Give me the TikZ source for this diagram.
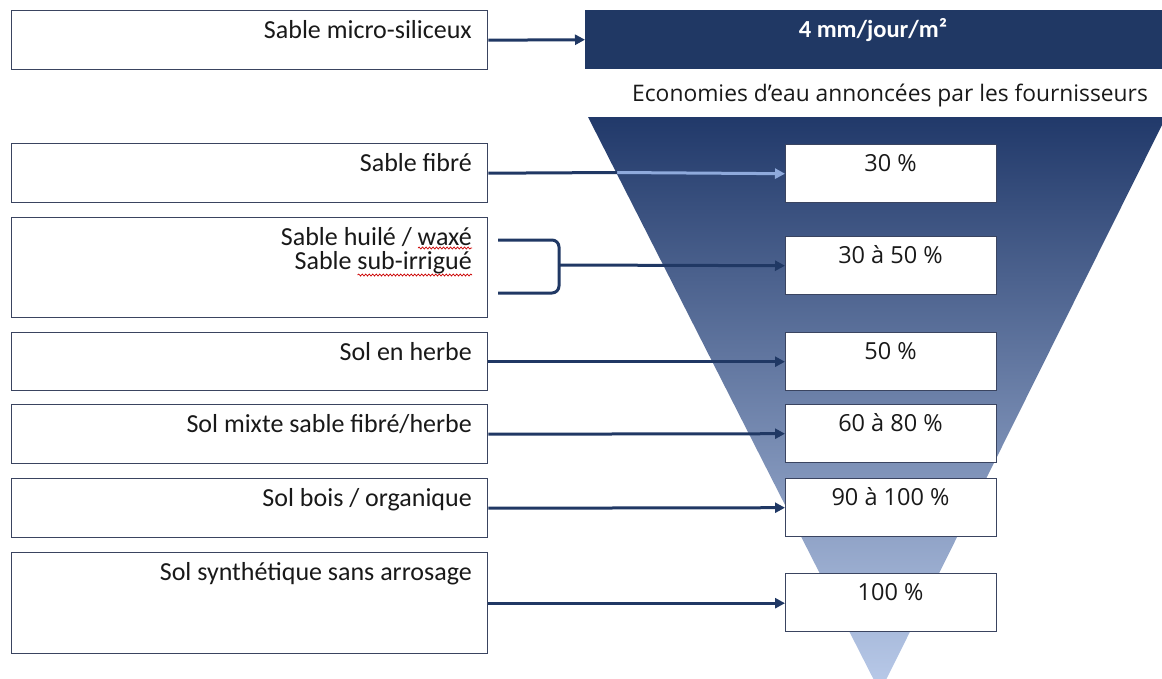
\documentclass[tikz,border=0pt]{standalone}
\usepackage{fontspec}
\setmainfont{Carlito}
\newfontfamily\opensans{Open Sans}
\usetikzlibrary{arrows.meta,decorations.pathmorphing}
\definecolor{navy}{RGB}{32,56,100}
\definecolor{funtop}{RGB}{33,57,106}
\definecolor{funmid}{RGB}{112,134,183}
\definecolor{funbot}{RGB}{186,203,234}
\definecolor{boxline}{RGB}{58,68,96}
\definecolor{arrowlight}{RGB}{143,170,220}
\definecolor{txt}{RGB}{25,25,25}
\newlength\wxwidth
\newlength\siwidth
\tikzset{
  lbox/.style={draw=boxline,line width=1.4pt,fill=white,minimum width=476pt,inner sep=0pt,anchor=north west},
  rbox/.style={draw=boxline,line width=1.4pt,fill=white,minimum width=211pt,minimum height=58pt,inner sep=0pt,anchor=north west},
  ltext/.style={anchor=base east,font=\fontsize{26}{28}\selectfont,text=txt,inner sep=0pt},
  rtext/.style={anchor=base,font=\opensans\fontsize{23.5}{26}\selectfont,text=txt,inner sep=0pt},
  conn/.style={draw=navy,line width=3pt,-{Triangle[length=10pt,width=10pt]}},
  connlight/.style={draw=arrowlight,line width=3pt,-{Triangle[length=10pt,width=10pt]}},
  connplain/.style={draw=navy,line width=3pt},
  brack/.style={draw=navy,line width=3pt,rounded corners=7pt},
  spell/.style={draw=red!80!black,line width=0.7pt,decorate,decoration={snake,segment length=3.5pt,amplitude=1pt}},
}
\begin{document}
\settowidth\wxwidth{\fontsize{26}{28}\selectfont waxé}%
\settowidth\siwidth{\fontsize{26}{28}\selectfont sub-irrigué}%
\begin{tikzpicture}[x=1pt,y=-1pt]
\useasboundingbox (0,0) rectangle (1162,678);
\begin{scope}
\clip (0,0) rectangle (1162,678);
\shade[top color=funtop,middle color=funmid,bottom color=funbot] (588,117) -- (1166,117) -- (880,692) -- cycle;
\end{scope}
\node[fill=navy,minimum width=577pt,minimum height=59pt,inner sep=0pt,anchor=north west] (head) at (585,10) {};
\node[anchor=base,font=\bfseries\fontsize{24.5}{26}\selectfont,text=white,inner sep=0pt] (headt) at (873,37) {4 mm/jour/m²};
\node[anchor=base west,font=\opensans\fontsize{22.8}{26}\selectfont,text=txt,inner sep=0pt] (eco) at (632,101) {Economies d’eau annoncées par les fournisseurs};

% left boxes
\node[lbox,minimum height=59pt] (b1) at (11,10) {};
\node[lbox,minimum height=59pt] (b2) at (11,143) {};
\node[lbox,minimum height=100pt] (b3) at (11,217) {};
\node[lbox,minimum height=58pt] (b4) at (11,332) {};
\node[lbox,minimum height=59pt] (b5) at (11,404) {};
\node[lbox,minimum height=59pt] (b6) at (11,478) {};
\node[lbox,minimum height=101pt] (b7) at (11,552) {};

\node[ltext] (t1) at (472,38) {Sable micro-siliceux};
\node[ltext] (t2) at (472,171) {Sable fibré};
\node[ltext] (t3a) at (472,245) {Sable huilé / waxé};
\node[ltext] (t3b) at (472,269) {Sable sub-irrigué};
\node[ltext] (t4) at (472,360) {Sol en herbe};
\node[ltext] (t5) at (472,432) {Sol mixte sable fibré/herbe};
\node[ltext] (t6) at (472,506) {Sol bois / organique};
\node[ltext] (t7) at (472,580) {Sol synthétique sans arrosage};

% spell-check marks
\draw[spell] ([xshift=-\wxwidth,yshift=-3pt]t3a.base east) -- ([yshift=-3pt]t3a.base east);
\draw[spell] ([xshift=-\siwidth,yshift=-6pt]t3b.base east) -- ([yshift=-6pt]t3b.base east);

% right boxes
\node[rbox] (p1) at (785,144) {};
\node[rbox] (p2) at (785,236) {};
\node[rbox] (p3) at (785,332) {};
\node[rbox] (p4) at (785,404) {};
\node[rbox] (p5) at (785,478) {};
\node[rbox] (p6) at (785,573) {};

\node[rtext] (q1) at (890.5,171) {30 \%};
\node[rtext] (q2) at (890.5,263) {30 à 50 \%};
\node[rtext] (q3) at (890.5,359) {50 \%};
\node[rtext] (q4) at (890.5,431) {60 à 80 \%};
\node[rtext] (q5) at (890.5,505) {90 à 100 \%};
\node[rtext] (q6) at (890.5,600) {100 \%};

% connectors
\draw[conn] (b1.east) -- (head.west);
\coordinate (fibcut) at (617,172.5);
\draw[connlight] (fibcut) -- (p1.west);
\draw[connplain] (b2.east) -- (fibcut);
\coordinate (bt) at (498,240);
\coordinate (bb) at (498,293);
\coordinate (bm) at (559,265);
\draw[brack] (bt) -- (559,240) -- (559,293) -- (bb);
\draw[conn] (bm) -- (p2.west);
\draw[conn] (b4.east) -- (p3.west);
\draw[conn] (b5.east) -- (p4.west);
\draw[conn] (b6.east) -- (p5.west);
\draw[conn] (b7.east) -- (b7.east -| p6.west);
\end{tikzpicture}
\end{document}
